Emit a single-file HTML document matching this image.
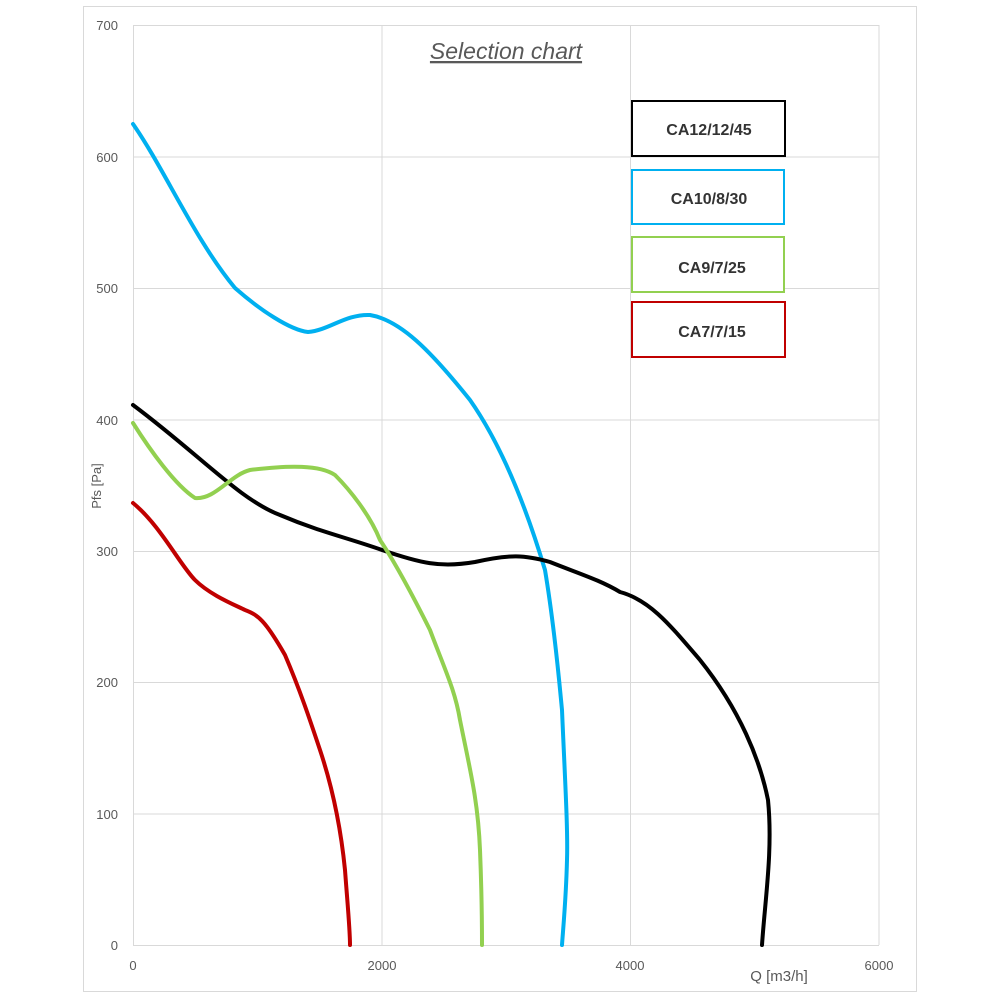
<!DOCTYPE html>
<html><head><meta charset="utf-8"><style>body{margin:0;background:#fff}</style></head><body>
<svg width="1000" height="1000" xmlns="http://www.w3.org/2000/svg" font-family="Liberation Sans, sans-serif">
<rect x="83.5" y="6.5" width="833" height="985" fill="#fff" stroke="#d9d9d9"/>
<g stroke="#d9d9d9" stroke-width="1">
<line x1="133" y1="25.5" x2="879" y2="25.5"/><line x1="133" y1="157" x2="879" y2="157"/>
<line x1="133" y1="288.5" x2="879" y2="288.5"/><line x1="133" y1="420" x2="879" y2="420"/>
<line x1="133" y1="551.5" x2="879" y2="551.5"/><line x1="133" y1="682.5" x2="879" y2="682.5"/>
<line x1="133" y1="814" x2="879" y2="814"/><line x1="133" y1="945.5" x2="879" y2="945.5"/>
<line x1="133.5" y1="25" x2="133.5" y2="945"/><line x1="382" y1="25" x2="382" y2="945"/>
<line x1="630.5" y1="25" x2="630.5" y2="945"/><line x1="879" y1="25" x2="879" y2="945"/>
</g>
<g font-size="13" fill="#595959" text-anchor="end">
<text x="118" y="30">700</text><text x="118" y="162">600</text><text x="118" y="293">500</text>
<text x="118" y="425">400</text><text x="118" y="556">300</text><text x="118" y="687">200</text>
<text x="118" y="819">100</text><text x="118" y="950">0</text>
</g>
<g font-size="13" fill="#595959" text-anchor="middle">
<text x="133" y="970">0</text><text x="382" y="970">2000</text><text x="630" y="970">4000</text><text x="879" y="970">6000</text>
</g>
<text x="779" y="981" font-size="15" fill="#595959" text-anchor="middle">Q [m3/h]</text>
<text transform="translate(101,486) rotate(-90)" font-size="13" fill="#595959" text-anchor="middle">Pfs [Pa]</text>
<text x="506" y="59" font-size="23" font-style="italic" fill="#595959" text-anchor="middle" text-decoration="underline">Selection chart</text>
<g fill="none" stroke-width="4" stroke-linejoin="round" stroke-linecap="round">
<path stroke="#00b0f0" d="M133,124 C165,170 195,240 235,288 C260,310 290,330 308,332 C330,330 345,314 370,315 C400,320 430,350 470,400 C505,450 530,520 545,570 C555,630 560,690 562,710 C565,780 568,830 567,860 C566,900 563,930 562,945"/>
<path stroke="#000" d="M133,405 C200,455 240,500 280,515 C320,532 345,537 382,550 C420,563 440,568 475,562 C510,554 525,555 550,562 C580,574 600,580 620,592 C650,600 670,625 700,660 C740,710 760,760 768,800 C773,850 765,900 762,945"/>
<path stroke="#92d050" d="M133,423 C150,450 175,485 195,498 C215,500 230,475 250,470 C290,465 320,465 335,475 C350,490 370,515 380,540 C400,570 420,610 430,630 C445,670 455,690 460,720 C470,770 478,800 480,850 C482,900 482,930 482,945"/>
<path stroke="#c00000" d="M133,503 C160,525 180,565 195,580 C210,595 235,605 245,610 C258,615 265,620 285,655 C300,690 310,720 320,750 C330,780 340,820 345,870 C348,910 350,930 350,945"/>
</g>
<g stroke-width="2" fill="#fff">
<rect x="632" y="101" width="153" height="55" stroke="#000"/>
<rect x="632" y="170" width="152" height="54" stroke="#00b0f0"/>
<rect x="632" y="237" width="152" height="55" stroke="#92d050"/>
<rect x="632" y="302" width="153" height="55" stroke="#c00000"/>
</g>
<g font-size="16" font-weight="bold" fill="#333" text-anchor="middle">
<text x="709" y="135">CA12/12/45</text><text x="709" y="204">CA10/8/30</text>
<text x="712" y="273">CA9/7/25</text><text x="712" y="337">CA7/7/15</text>
</g>
</svg>
</body></html>
